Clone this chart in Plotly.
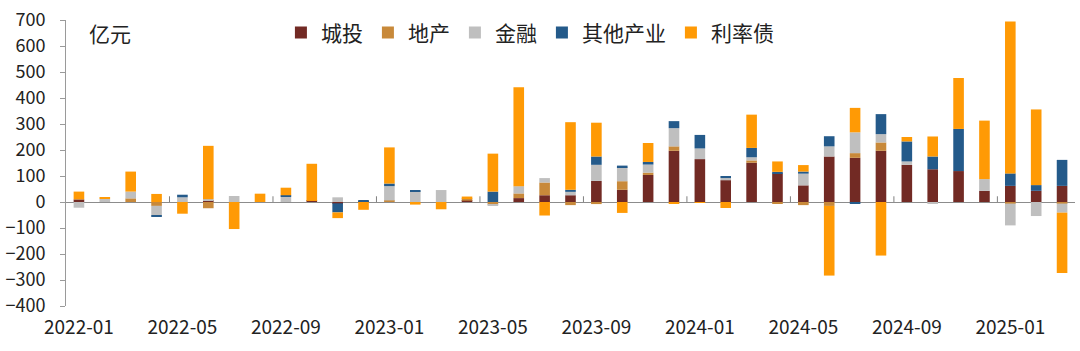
import plotly.graph_objects as go

months = [f"{y}-{m:02d}" for y in (2022, 2023, 2024) for m in range(1, 13)] + ["2025-01", "2025-02", "2025-03"]

chengtou = [10, 0, 0, 0, 0, 6, 0, 0, 0, 4, -5, 3,
            0, 0, 0, 5, 0, 15, 26, 26, 81, 47, 104, 197,
            165, 84, 151, 110, 64, 175, 170, 197, 143, 126, 119, 43,
            62, 43, 62]
dichan = [0, 0, 14, -15, 0, -24, 0, 0, 0, 0, 0, 0,
          6, 0, 0, 9, -10, 18, 49, -12, -8, 33, 9, 17,
          0, 0, 9, -4, -12, -15, 18, 32, 0, 0, 0, 0,
          -6, 0, -6]
jinrong = [-22, 12, 26, -36, 18, 5, 23, 0, 20, 0, 18, 0,
           55, 41, 46, 0, -5, 28, 17, 13, 62, 54, 31, 70,
           41, 8, 12, 0, 45, 39, 80, 32, 13, -6, 0, 45,
           -84, -54, -35]
qita = [0, 0, 0, -5, 10, 0, 0, 0, 6, 0, -35, 2,
        10, 4, 0, 0, 40, 0, 0, 8, 32, 6, 10, 27,
        52, 8, 36, 6, 8, 39, -6, 77, 77, 49, 162, 0,
        48, 22, 100]
lilvzhai = [30, 5, 77, 31, -45, 205, -104, 32, 29, 143, -22, -30,
            139, -10, -28, 7, 146, 380, -52, 260, 130, -42, 73, -6,
            -3, -23, 128, 40, 25, -268, 94, -206, 17, 77, 196, 225,
            584, 291, -232]

series_names = ["城投", "地产", "金融", "其他产业", "利率债"]
series_values = [chengtou, dichan, jinrong, qita, lilvzhai]
colors = ["#722A24", "#C8893A", "#BFBFBF", "#245A8A", "#FF9A05"]

tick_labels = months[::4]
y_ticks = list(range(-400, 701, 100))

FONT = "Noto Sans CJK SC, Noto Sans, sans-serif"

fig = go.Figure()
for name, vals, c in zip(series_names, series_values, colors):
    fig.add_trace(go.Bar(x=months, y=vals, name=name, marker=dict(color=c, line=dict(width=0))))

# small tick marks on the zero line at category boundaries
for k in range(3, len(months) - 1, 4):
    fig.add_shape(type="line", xref="x", yref="y", x0=k + 0.5, x1=k + 0.5, y0=0, y1=22,
                  line=dict(color="#808080", width=1))

fig.update_layout(
    width=1080, height=351,
    margin=dict(l=62, r=5, t=20, b=45),
    barmode="relative",
    bargap=0.59,
    plot_bgcolor="white", paper_bgcolor="white",
    font=dict(family=FONT, size=19, color="#222222"),
    showlegend=True,
    legend=dict(orientation="h", x=0.213, xanchor="left", y=0.955, yanchor="middle",
                font=dict(size=21, family=FONT), itemwidth=30, bgcolor="rgba(0,0,0,0)",
                traceorder="normal"),
    annotations=[dict(text="亿元", xref="paper", yref="paper", x=0.021, y=0.955,
                      xanchor="left", yanchor="middle", showarrow=False,
                      font=dict(size=21, family=FONT, color="#222222"))],
)
fig.update_xaxes(type="category", tickmode="array", tickvals=tick_labels, ticktext=tick_labels,
                 showline=False, showgrid=False, ticks="", tickangle=0,
                 ticklabelstandoff=8, range=[-0.5, len(months) - 0.5],
                 tickfont=dict(size=19, family=FONT))
fig.update_yaxes(range=[-400, 700], tickvals=y_ticks, showgrid=False,
                 showline=True, linecolor="#9a9a9a", linewidth=1,
                 ticks="outside", ticklen=5, tickcolor="#9a9a9a",
                 zeroline=True, zerolinecolor="#8c8c8c", zerolinewidth=1,
                 ticklabelstandoff=11, tickfont=dict(size=18, family=FONT))

fig.write_html("out.html")
